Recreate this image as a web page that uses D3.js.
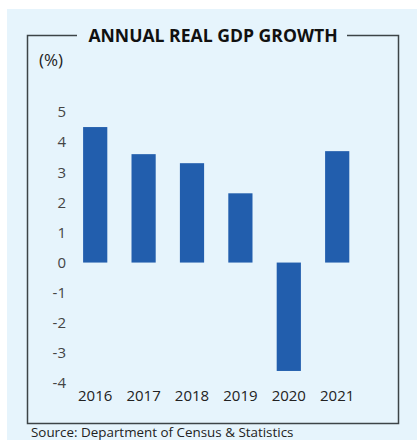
<!DOCTYPE html>
<html>
<head>
<meta charset="utf-8">
<script src="https://cdn.jsdelivr.net/npm/d3@7"></script>
<style>
  body { margin: 0; background: #ffffff; }
  svg { display: block; font-family: "Open Sans", sans-serif; }
</style>
</head>
<body>
<div id="chart"></div>
<script>
// Annual real GDP growth (%)
const years = ["2016", "2017", "2018", "2019", "2020", "2021"];
const growth = [4.5, 3.6, 3.3, 2.3, -3.6, 3.7];
const yTicks = [5, 4, 3, 2, 1, 0, -1, -2, -3, -4];

const width = 417, height = 440;

let svg = d3.select("#chart")
    .append("svg")
    .attr("width", width)
    .attr("height", height);

// light blue panel
svg.append("rect")
    .attr("x", 7)
    .attr("y", 9)
    .attr("width", width - 7)
    .attr("height", height - 9)
    .attr("fill", "#e6f4fc");

// frame with a gap for the title
const frameColor = "#3d4447";
svg.append("path")
    .attr("d", "M77,35.5 H27.5 V423.5 H398.5 V35.5 H347")
    .attr("fill", "none")
    .attr("stroke", frameColor)
    .attr("stroke-width", 1.5);

svg.append("text")
    .attr("x", 213)
    .attr("y", 42)
    .attr("text-anchor", "middle")
    .style("font-size", "17.6px")
    .style("font-weight", "bold")
    .attr("fill", "#111")
    .text("ANNUAL REAL GDP GROWTH");

svg.append("text")
    .attr("x", 39)
    .attr("y", 66)
    .style("font-size", "17px")
    .attr("fill", "#222")
    .text("(%)");

let x = d3.scaleBand()
    .domain(years)
    .range([71, 361.4])
    .paddingInner(0.5)
    .paddingOuter(0.25);

let y = d3.scaleLinear()
    .domain([-4, 5])
    .range([383, 112]);

// y axis labels only
let yAxis = svg.append("g")
    .attr("transform", "translate(70,0)")
    .call(d3.axisLeft(y).tickValues(yTicks).tickSize(0).tickPadding(4)
        .tickFormat(function (d) { return String(d); }));
yAxis.select(".domain").remove();
yAxis.selectAll("text")
    .style("font-family", "Open Sans, sans-serif")
    .style("font-size", "15px")
    .attr("fill", "#444");

// bars
svg.selectAll("rect.bar")
    .data(years)
    .enter()
    .append("rect")
    .attr("class", "bar")
    .attr("x", function (d) { return x(d); })
    .attr("y", function (d, i) { return y(Math.max(0, growth[i])); })
    .attr("width", x.bandwidth())
    .attr("height", function (d, i) { return Math.abs(y(growth[i]) - y(0)); })
    .attr("fill", "#225ead");

// x labels
svg.selectAll("text.year")
    .data(years)
    .enter()
    .append("text")
    .attr("class", "year")
    .attr("x", function (d) { return x(d) + x.bandwidth() / 2; })
    .attr("y", 401)
    .attr("text-anchor", "middle")
    .style("font-size", "15px")
    .attr("fill", "#222")
    .text(function (d) { return d; });

svg.append("text")
    .attr("x", 31)
    .attr("y", 437)
    .style("font-size", "13.4px")
    .attr("fill", "#222")
    .text("Source: Department of Census & Statistics");
</script>
</body>
</html>
